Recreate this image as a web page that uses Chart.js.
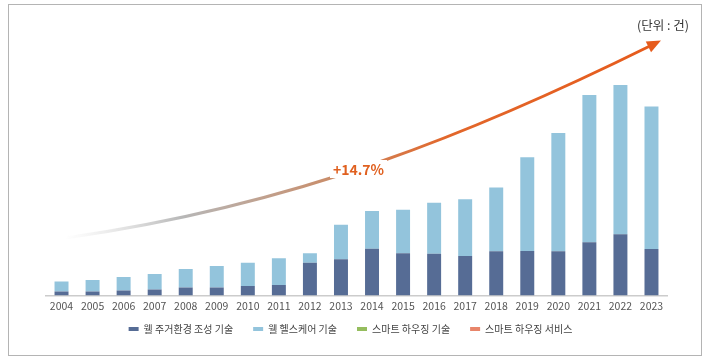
<!DOCTYPE html>
<html>
<head>
<meta charset="utf-8">
<script src="https://cdn.jsdelivr.net/npm/chart.js@4"></script>
<style>
  body { margin: 0; background: #fff; }
  #wrap { position: relative; width: 717px; height: 363px; }
  #frame { position: absolute; left: 8px; top: 4px; width: 694px; height: 352px; border: 1px solid #b4b4b4; box-sizing: border-box; pointer-events: none; }
  #chart { position: absolute; left: 0; top: 0; }
  .note { position: absolute; font-family: 'Noto Sans CJK KR', 'Noto Sans', sans-serif; white-space: nowrap; }
  #unit { left: 637px; top: 15px; font-size: 12.5px; color: #333; }
  #rate { left: 330px; top: 160px; font-size: 14px; font-weight: bold; color: #e0601f; background: #fff; padding: 0 3px; line-height: 18px; }
</style>
</head>
<body>
<div id="wrap">
  <canvas id="chart" width="717" height="363"></canvas>
  <div id="frame"></div>
  <div class="note" id="unit">(단위 : 건)</div>
  <div class="note" id="rate">+14.7%</div>
</div>
<script>
const years = ['2004','2005','2006','2007','2008','2009','2010','2011','2012','2013',
               '2014','2015','2016','2017','2018','2019','2020','2021','2022','2023']

// 건수 (값은 그림에서 읽은 추정치)
const wellLiving = [40, 40, 50, 60, 80, 80, 93, 103, 326, 360, 466, 420, 416, 393, 440, 443, 440, 530, 610, 463]
const wellHealth = [100, 113, 133, 153, 183, 213, 233, 267, 94, 346, 377, 436, 510, 567, 636, 937, 1180, 1470, 1490, 1423]
const smartTech = []
const smartService = []

const seriesNames = ['웰 주거환경 조성 기술', '웰 헬스케어 기술', '스마트 하우징 기술', '스마트 하우징 서비스']

// growth arrow over the chart
const growthArrow = {
    id: 'growthArrow',
    afterDatasetsDraw(chart) {
        const ctx = chart.ctx
        const p0 = [65, 238], c1 = [300, 205], c2 = [480, 130], p3 = [652, 45]
        const grad = ctx.createLinearGradient(p0[0], 0, p3[0], 0)
        grad.addColorStop(0, 'rgba(210,210,210,0)')
        grad.addColorStop(0.2, 'rgba(175,175,175,0.9)')
        grad.addColorStop(0.45, '#c98d6a')
        grad.addColorStop(0.65, '#e2672b')
        grad.addColorStop(1, '#e65b1c')
        ctx.save()
        ctx.strokeStyle = grad
        ctx.lineWidth = 3
        ctx.lineCap = 'round'
        ctx.beginPath()
        ctx.moveTo(p0[0], p0[1])
        ctx.bezierCurveTo(c1[0], c1[1], c2[0], c2[1], p3[0], p3[1])
        ctx.stroke()
        // head
        const ang = Math.atan2(p3[1] - c2[1], p3[0] - c2[0])
        const tip = [p3[0] + 10 * Math.cos(ang), p3[1] + 10 * Math.sin(ang)]
        ctx.fillStyle = '#e65b1c'
        ctx.beginPath()
        ctx.moveTo(tip[0], tip[1])
        ctx.lineTo(tip[0] - 14 * Math.cos(ang) + 6 * Math.sin(ang), tip[1] - 14 * Math.sin(ang) - 6 * Math.cos(ang))
        ctx.lineTo(tip[0] - 14 * Math.cos(ang) - 6 * Math.sin(ang), tip[1] - 14 * Math.sin(ang) + 6 * Math.cos(ang))
        ctx.closePath()
        ctx.fill()
        ctx.restore()
    }
}

// legend: wide gaps between items but sitting close under the axis
const legendPlace = {
    id: 'legendPlace',
    beforeInit(chart) {
        const fit = chart.legend.fit
        chart.legend.fit = function () {
            fit.call(this)
            this.height = 36
        }
    },
    afterLayout(chart) {
        const l = chart.legend
        l.top -= 12; l.bottom -= 12
        l.left -= 6; l.right -= 6
    }
}

const data = {
    labels: years,
    datasets: [
        { label: seriesNames[0], data: wellLiving, backgroundColor: '#566c95' },
        { label: seriesNames[1], data: wellHealth, backgroundColor: '#93c4dc' },
        { label: seriesNames[2], data: smartTech, backgroundColor: '#95bd5e' },
        { label: seriesNames[3], data: smartService, backgroundColor: '#e8856a' },
    ],
}

const config = {
    type: 'bar',
    data: data,
    plugins: [growthArrow, legendPlace],
    options: {
        responsive: false,
        animation: false,
        layout: { padding: { left: 46, right: 50, top: 65, bottom: 11 } },
        datasets: { bar: { categoryPercentage: 1, barPercentage: 0.45 } },
        scales: {
            x: {
                stacked: true,
                grid: { display: false, drawTicks: false },
                border: { display: true, color: '#cccccc', width: 1.5 },
                ticks: { color: '#555', padding: 4, font: { family: "'Noto Sans CJK KR', 'Noto Sans', sans-serif", size: 10.5 } },
            },
            y: { stacked: true, display: false, min: 0, max: 2300 },
        },
        plugins: {
            tooltip: { enabled: false },
            legend: {
                position: 'bottom',
                labels: {
                    boxWidth: 10, boxHeight: 4, padding: 20, color: '#444',
                    font: { family: "'Noto Sans CJK KR', 'Noto Sans', sans-serif", size: 10 },
                },
            },
        },
    },
}

const canvas = document.getElementById('chart')
const chart = new Chart(canvas, config)
</script>
</body>
</html>
